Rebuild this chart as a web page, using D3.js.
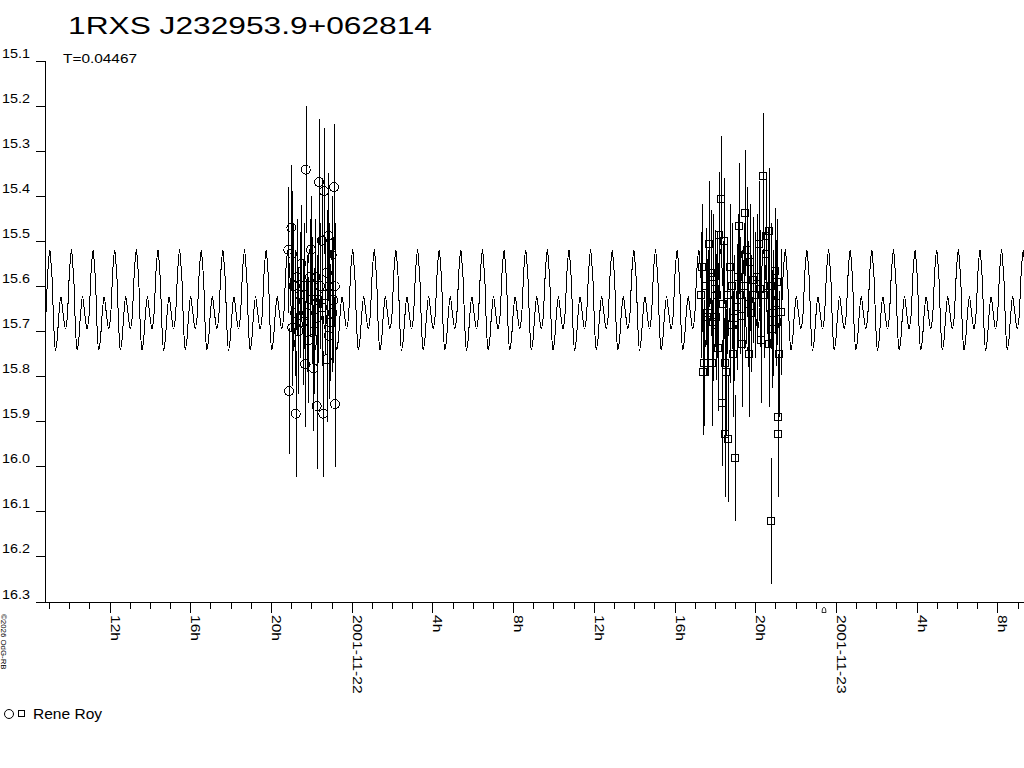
<!DOCTYPE html>
<html><head><meta charset="utf-8">
<script src="https://cdn.jsdelivr.net/npm/d3@7"></script>
<style>
body{margin:0;background:#fff}
svg{display:block}
text{font-family:"Liberation Sans",Arial,sans-serif;fill:#000}
</style>
</head><body>
<svg id="c" width="1024" height="768"></svg>
<script>
// ---------------- data ----------------
const title = "1RXS J232953.9+062814";
const periodLabel = "T=0.04467";
const periodDays = 0.04467;
const observer = "Rene Roy";
const credit = "\u00A92026 OdG-RB";
const yTickValues = [15.1,15.2,15.3,15.4,15.5,15.6,15.7,15.8,15.9,16.0,16.1,16.2,16.3];
// hours relative to 2001-11-22 00:00 UT
const domainHours = [-15.20, 33.32];
// one cycle of the fitted light curve (phase 0 = main maximum)
const profilePhase = [0.00, 0.05, 0.11, 0.185, 0.26, 0.33, 0.42, 0.51, 0.60, 0.72, 0.80, 0.85, 0.92];
const profileMag   = [15.519, 15.545, 15.588, 15.692, 15.742, 15.722, 15.662, 15.623, 15.655, 15.695, 15.672, 15.628, 15.558];
const epochHours = -14.96; // a main maximum

// night 1 (circles)
const n1Hours = [-3.142,-3.108,-2.990,-2.960,-2.945,-2.776,-2.280,-2.315,-2.067,-2.017,-1.903,-1.735,-1.655,-1.621,-1.487,-1.470,-1.408,-1.373,-1.239,-1.160,-1.076,-1.140,-0.991,-0.912,-0.877,-0.828,
  -2.885,-2.810,-2.711,-2.637,-2.563,-2.488,-2.414,-2.364,-2.216,-2.141,-1.968,-1.844,-1.794,-1.720,-1.571,-1.323,-1.224,-1.100,-0.952,-0.838];
const n1Mag = [15.519,15.833,15.470,15.528,15.692,15.883,15.341,15.773,15.580,15.519,15.782,15.866,15.631,15.369,15.499,15.647,15.883,15.389,15.762,15.488,15.681,15.710,15.530,15.631,15.380,15.862,
  15.60,15.66,15.58,15.70,15.62,15.55,15.68,15.60,15.66,15.72,15.63,15.70,15.58,15.67,15.60,15.62,15.57,15.60,15.66,15.60];
const n1Err = [0.14,0.14,0.14,0.14,0.13,0.14,0.14,0.14,0.13,0.12,0.14,0.14,0.14,0.14,0.14,0.13,0.14,0.14,0.14,0.14,0.13,0.14,0.13,0.14,0.14,0.14,
  0.14,0.14,0.13,0.14,0.14,0.13,0.14,0.14,0.13,0.14,0.14,0.14,0.13,0.14,0.14,0.13,0.14,0.14,0.13,0.14];

// night 2 (squares)
const n2Hours = [17.378,17.428,17.477,17.596,17.710,17.844,17.923,18.007,18.042,18.171,18.221,18.290,18.340,18.454,18.503,18.510,18.553,18.667,18.751,18.760,18.915,18.999,19.083,19.197,19.331,19.340,19.494,19.579,19.708,19.742,19.876,20.203,20.238,20.287,20.372,20.535,20.545,20.684,20.694,20.783,20.790,20.818,20.981,21.031,21.115,21.145,21.194,21.264,
  17.289,17.537,17.661,17.785,17.884,18.107,18.380,18.603,18.826,18.950,19.148,19.247,19.420,19.619,19.792,19.965,20.089,20.411,20.609,20.882,21.081];
const n2Mag = [15.558,15.790,15.770,15.669,15.506,15.770,15.580,15.606,15.669,15.738,15.487,15.407,15.860,15.499,15.770,15.929,15.790,15.940,15.558,15.686,15.750,15.981,15.647,15.467,15.667,15.729,15.438,15.519,15.750,15.547,15.586,15.506,15.606,15.719,15.355,15.488,15.528,15.478,15.729,15.599,16.122,15.695,15.567,15.637,15.929,15.890,15.750,15.658,
  15.62,15.60,15.66,15.57,15.68,15.62,15.64,15.62,15.60,15.67,15.58,15.62,15.60,15.64,15.66,15.62,15.58,15.62,15.60,15.66,15.59];
const n2Err = [0.14,0.14,0.14,0.13,0.14,0.14,0.14,0.13,0.14,0.14,0.14,0.14,0.14,0.14,0.14,0.14,0.14,0.14,0.14,0.13,0.14,0.14,0.14,0.14,0.14,0.14,0.14,0.14,0.14,0.13,0.14,0.14,0.13,0.14,0.14,0.14,0.13,0.14,0.14,0.14,0.14,0.13,0.14,0.14,0.14,0.14,0.14,0.14,
  0.14,0.13,0.14,0.14,0.13,0.14,0.14,0.13,0.14,0.14,0.14,0.13,0.14,0.14,0.13,0.14,0.14,0.14,0.13,0.14,0.14];

// ---------------- drawing ----------------
(function () {
const base = Date.UTC(2001, 10, 22);
const T = h => new Date(base + h * 3600e3);
const svg = d3.select("#c");
const pLeft = 45, pRight = 1024, pTop = 61, pBottom = 601.5, axisY = 602;

const x = d3.scaleUtc().domain(domainHours.map(T)).range([pLeft, pRight]);
const y = d3.scaleLinear().domain([15.1, 16.3]).range([pTop, pBottom]);

const crisp = v => Math.round(v) + 0.5;

function stext(g, str, tx, ty, size, sx, anchor, rot) {
  return g.append("text")
    .attr("transform", `translate(${tx},${ty})` + (rot ? ` rotate(${rot})` : "") + ` scale(${sx},1)`)
    .attr("font-size", size).attr("text-anchor", anchor || "start").text(str);
}

// title
svg.append("text").attr("x", 68).attr("y", 34).attr("font-size", 23)
  .attr("textLength", 364).attr("lengthAdjust", "spacingAndGlyphs").text(title);
svg.append("text").attr("x", 63).attr("y", 63).attr("font-size", 12.5)
  .attr("textLength", 74).attr("lengthAdjust", "spacingAndGlyphs").text(periodLabel);

// clip
svg.append("defs").append("clipPath").attr("id", "plot")
  .append("rect").attr("x", pLeft + 1).attr("y", 0).attr("width", pRight - pLeft).attr("height", axisY);

// y axis
const ya = svg.append("g").attr("shape-rendering", "crispEdges");
ya.append("line").attr("x1", crisp(pLeft)).attr("x2", crisp(pLeft)).attr("y1", pTop).attr("y2", axisY)
  .attr("stroke", "#000");
yTickValues.forEach(v => {
  const yy = crisp(y(v));
  ya.append("line").attr("x1", 36).attr("x2", pLeft + 1).attr("y1", yy).attr("y2", yy).attr("stroke", "#000");
  stext(ya, v.toFixed(1), 30, yy - 3.5, 12.5, 1.15, "end");
});

// x axis
const xa = svg.append("g").attr("shape-rendering", "crispEdges");
xa.append("line").attr("x1", 36).attr("x2", pRight).attr("y1", axisY + 0.5).attr("y2", axisY + 0.5).attr("stroke", "#000");
const hourTicks = x.ticks(d3.utcHour.every(1));
const dateFmt = d3.utcFormat("%Y-%m-%d");
hourTicks.forEach(t => {
  const h = t.getUTCHours();
  const major = h % 4 === 0;
  const xx = crisp(x(t));
  xa.append("line").attr("x1", xx).attr("x2", xx).attr("y1", axisY).attr("y2", axisY + (major ? 11 : 7)).attr("stroke", "#000");
  if (major) {
    const lab = h === 0 ? dateFmt(t) : h + "h";
    stext(xa, lab, xx + 0.5, 615, 13, 1.2, "start", 90);
  }
});
// small mark near the second date
svg.append("path").attr("d", "M822,612.5 L826,612.5 L825.5,608.5 Q824,606 822.5,608.5 Z")
  .attr("fill", "none").attr("stroke", "#000").attr("stroke-width", 0.8);

// credit
stext(svg, credit, 1, 614, 7.5, 1.05, "start", 90);

// model curve
const Th = periodDays * 24;
const curvePts = [];
const kStart = Math.floor((domainHours[0] - epochHours) / Th) - 1;
const kEnd = Math.ceil((domainHours[1] - epochHours) / Th) + 1;
for (let k = kStart; k <= kEnd; k++) {
  profilePhase.forEach((p, i) => curvePts.push([epochHours + (k + p) * Th, profileMag[i]]));
}
const line = d3.line().x(d => x(T(d[0]))).y(d => y(d[1])).curve(d3.curveCatmullRom.alpha(0.5));
svg.append("path").attr("clip-path", "url(#plot)").attr("d", line(curvePts))
  .attr("fill", "none").attr("stroke", "#000").attr("stroke-width", 1)
  .attr("shape-rendering", "crispEdges");

// observations
function night(hours, mags, errs, shape) {
  const g = svg.append("g").attr("shape-rendering", "crispEdges");
  const pts = hours.map((h, i) => ({ x: x(T(h)), m: mags[i], e: errs[i] }));
  if (shape === "circle") {
    g.selectAll("circle").data(pts).join("circle")
      .attr("cx", d => d.x).attr("cy", d => y(d.m)).attr("r", 4.5)
      .attr("fill", "none").attr("stroke", "#000");
  } else {
    g.selectAll("rect").data(pts).join("rect")
      .attr("x", d => Math.round(d.x) - 3.5).attr("y", d => Math.round(y(d.m)) - 3.5)
      .attr("width", 7).attr("height", 7)
      .attr("fill", "none").attr("stroke", "#000");
  }
  g.selectAll("line.err").data(pts).join("line").attr("class", "err")
    .attr("x1", d => crisp(d.x)).attr("x2", d => crisp(d.x))
    .attr("y1", d => y(d.m - d.e)).attr("y2", d => y(d.m + d.e))
    .attr("stroke", "#000").attr("stroke-width", 1.2);
}
night(n1Hours, n1Mag, n1Err, "circle");
night(n2Hours, n2Mag, n2Err, "square");

// legend
svg.append("circle").attr("cx", 9).attr("cy", 714).attr("r", 4.5).attr("fill", "none").attr("stroke", "#000");
svg.append("rect").attr("x", 18.5).attr("y", 710.5).attr("width", 6).attr("height", 6)
  .attr("fill", "none").attr("stroke", "#000").attr("shape-rendering", "crispEdges");
stext(svg, observer, 33, 719, 14, 1.11, "start");
})();
</script>
</body></html>
